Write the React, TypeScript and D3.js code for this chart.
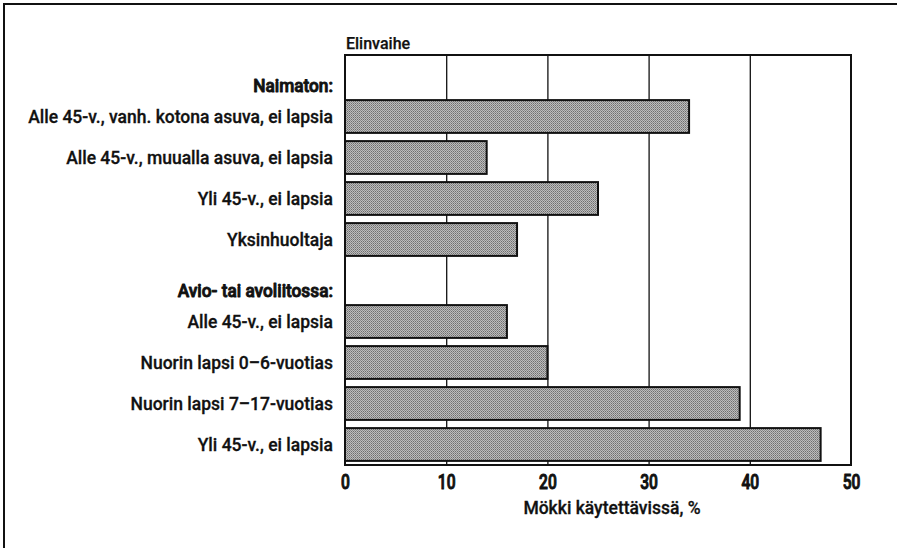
import React, { useRef, useEffect } from 'react';
import * as d3 from 'd3';

const groupLabels = ['Naimaton:', 'Avio- tai avoliitossa:'];

const singleLabels = [
  'Alle 45-v., vanh. kotona asuva, ei lapsia',
  'Alle 45-v., muualla asuva, ei lapsia',
  'Yli 45-v., ei lapsia',
  'Yksinhuoltaja',
];
const singleValues = [34, 14, 25, 17];

const coupleLabels = [
  'Alle 45-v., ei lapsia',
  'Nuorin lapsi 0–6-vuotias',
  'Nuorin lapsi 7–17-vuotias',
  'Yli 45-v., ei lapsia',
];
const coupleValues = [16, 20, 39, 47];

const xTicks = [0, 10, 20, 30, 40, 50];

const FONT = "Roboto, 'Noto Sans', sans-serif";

const App = () => {
  const svgRef = useRef<SVGSVGElement>(null);
  const width = 897;
  const height = 548;

  useEffect(() => {
    const svg = d3.select(svgRef.current);
    svg.selectAll('*').remove();

    const margin = { top: 55, right: 46, bottom: 83, left: 345 };
    const innerW = width - margin.left - margin.right;
    const innerH = height - margin.top - margin.bottom;

    // rows: header + bars for each group
    const rows = [
      { key: 'h0', label: groupLabels[0], header: true, value: 0 },
      ...singleLabels.map((l, i) => ({ key: 's' + i, label: l, header: false, value: singleValues[i] })),
      { key: 'h1', label: groupLabels[1], header: true, value: 0 },
      ...coupleLabels.map((l, i) => ({ key: 'c' + i, label: l, header: false, value: coupleValues[i] })),
    ];

    const x = d3.scaleLinear().domain([0, 50]).range([0, innerW]);
    const y = d3
      .scaleBand()
      .domain(rows.map(d => d.key))
      .range([0, innerH])
      .paddingInner(0.2)
      .paddingOuter(0.1);

    // dithered grey fill
    const defs = svg.append('defs');
    const pat = defs
      .append('pattern')
      .attr('id', 'dots')
      .attr('width', 2)
      .attr('height', 2)
      .attr('patternUnits', 'userSpaceOnUse');
    pat.append('rect').attr('width', 2).attr('height', 2).attr('fill', '#bdbdbd');
    pat.append('rect').attr('width', 1).attr('height', 1).attr('fill', '#6e6e6e');
    pat.append('rect').attr('x', 1).attr('y', 1).attr('width', 1).attr('height', 1).attr('fill', '#8a8a8a');

    // outer border (left + top only)
    svg.append('line').attr('x1', 4).attr('x2', 4).attr('y1', 3).attr('y2', height).attr('stroke', '#111').attr('stroke-width', 2);
    svg.append('line').attr('x1', 3).attr('x2', width).attr('y1', 4).attr('y2', 4).attr('stroke', '#111').attr('stroke-width', 2);

    const chart = svg.append('g').attr('transform', `translate(${margin.left},${margin.top})`);

    // grid lines
    chart
      .append('g')
      .call(d3.axisBottom(x).tickValues(xTicks.slice(1, -1)).tickSize(innerH).tickFormat(() => ''))
      .call(g => g.select('.domain').remove())
      .selectAll('line')
      .attr('stroke', '#111')
      .attr('stroke-width', 1.3);

    // bars
    chart
      .selectAll('.bar')
      .data(rows.filter(d => !d.header))
      .enter()
      .append('rect')
      .attr('x', 0)
      .attr('y', d => y(d.key)!)
      .attr('width', d => x(d.value))
      .attr('height', y.bandwidth())
      .attr('fill', 'url(#dots)')
      .attr('stroke', '#111')
      .attr('stroke-width', 2);

    // frame
    chart
      .append('rect')
      .attr('width', innerW)
      .attr('height', innerH)
      .attr('fill', 'none')
      .attr('stroke', '#111')
      .attr('stroke-width', 2);

    // category labels (plain rows)
    chart
      .selectAll('.lbl')
      .data(rows.filter(d => !d.header))
      .enter()
      .append('text')
      .attr('x', -12)
      .attr('y', d => y(d.key)! + y.bandwidth() / 2)
      .attr('dy', '0.35em')
      .attr('text-anchor', 'end')
      .attr('font-family', FONT)
      .attr('font-size', 17.5)
      .attr('font-weight', 500)
      .attr('fill', '#111')
      .attr('stroke', '#111')
      .attr('stroke-width', 0.3)
      .text(d => d.label);

    // group headers, heavy
    chart
      .selectAll('.hdr')
      .data(rows.filter(d => d.header))
      .enter()
      .append('text')
      .attr('transform', d => `translate(-12,${y(d.key)! + y.bandwidth() / 2 + 10}) scale(0.96,1)`)
      .attr('dy', '0.35em')
      .attr('text-anchor', 'end')
      .attr('font-family', FONT)
      .attr('font-size', 18)
      .attr('font-weight', 500)
      .attr('fill', '#111')
      .attr('stroke', '#111')
      .attr('stroke-width', 0.9)
      .attr('stroke-linejoin', 'round')
      .text(d => d.label);

    // x axis tick labels
    chart
      .append('g')
      .attr('transform', `translate(0,${innerH})`)
      .call(d3.axisBottom(x).tickValues(xTicks).tickSize(0).tickPadding(10).tickFormat(d3.format('d')))
      .call(g => g.select('.domain').remove())
      .selectAll('text')
      .attr('font-family', FONT)
      .attr('font-size', 19.5)
      .attr('font-weight', 500)
      .attr('transform', 'scale(0.8,1)')
      .attr('fill', '#111')
      .attr('stroke', '#111')
      .attr('stroke-width', 1)
      .attr('stroke-linejoin', 'round');

    // axis title
    svg
      .append('text')
      .attr('x', 612)
      .attr('y', 508)
      .attr('dy', '0.35em')
      .attr('text-anchor', 'middle')
      .attr('font-family', FONT)
      .attr('font-size', 17.5)
      .attr('font-weight', 500)
      .attr('fill', '#111')
      .attr('stroke', '#111')
      .attr('stroke-width', 0.3)
      .text('Mökki käytettävissä, %');

    // category axis title
    svg
      .append('text')
      .attr('x', margin.left + 1)
      .attr('y', 43)
      .attr('dy', '0.35em')
      .attr('font-family', FONT)
      .attr('font-size', 16)
      .attr('font-weight', 500)
      .attr('fill', '#111')
      .attr('stroke', '#111')
      .attr('stroke-width', 0.25)
      .text('Elinvaihe');
  }, []);

  return (
    <svg
      ref={svgRef}
      width={width}
      height={height}
      style={{ position: 'absolute', left: 0, top: 0, background: '#fff' }}
    />
  );
};

export default App;
